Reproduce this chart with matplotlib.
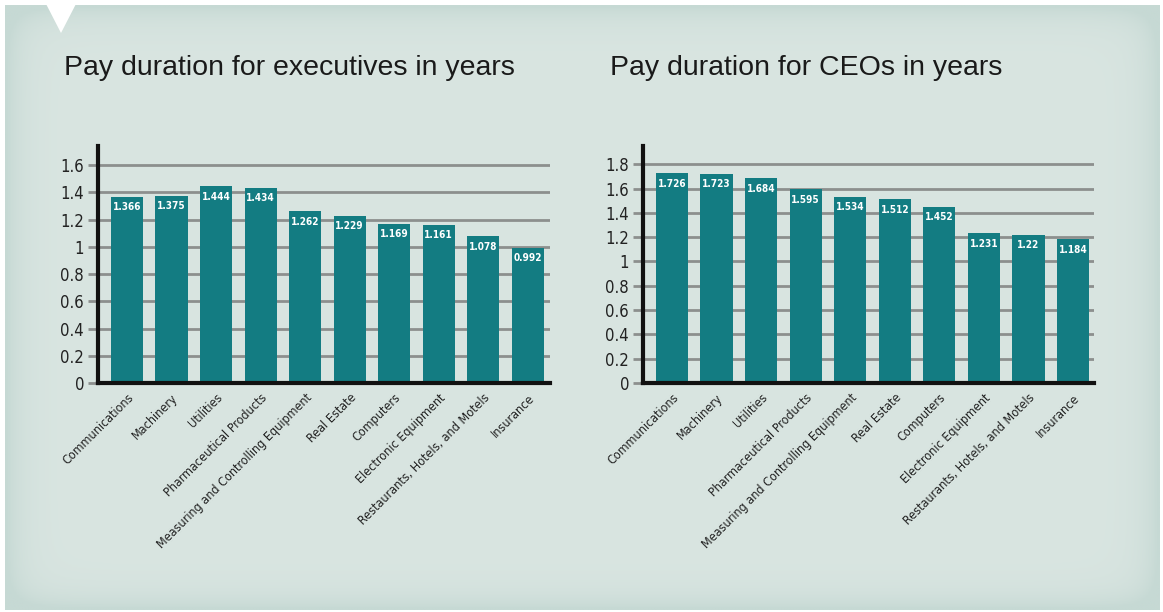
import numpy as np
import matplotlib
matplotlib.use("Agg")
import matplotlib.pyplot as plt
from matplotlib.patches import Polygon
from matplotlib import font_manager

# data
industries = ["Communications", "Machinery", "Utilities", "Pharmaceutical Products",
              "Measuring and Controlling Equipment", "Real Estate", "Computers",
              "Electronic Equipment", "Restaurants, Hotels, and Motels", "Insurance"]
exec_values = [1.366, 1.375, 1.444, 1.434, 1.262, 1.229, 1.169, 1.161, 1.078, 0.992]
ceo_industries = ["Communications", "Machinery", "Utilities", "Pharmaceutical Products",
                  "Measuring and Controlling Equipment", "Real Estate", "Computers",
                  "Electronic Equipment", "Restaurants, Hotels, and Motels", "Insurance"]
ceo_values = [1.726, 1.723, 1.684, 1.595, 1.534, 1.512, 1.452, 1.231, 1.22, 1.184]
exec_ticks = [0, 0.2, 0.4, 0.6, 0.8, 1, 1.2, 1.4, 1.6]
ceo_ticks = [0, 0.2, 0.4, 0.6, 0.8, 1, 1.2, 1.4, 1.6, 1.8]

BAR = "#137c82"
GRID = "#8c8f8e"


# look for a condensed face, the original uses a narrow grotesque
def find_narrow(bold):
    for f in font_manager.fontManager.ttflist:
        narrowish = ("Narrow" in f.name or "Condensed" in f.name
                     or f.stretch in ("condensed", "semi-condensed", 500 - 125))
        if not narrowish or f.style != "normal":
            continue
        w = f.weight if isinstance(f.weight, int) else (700 if f.weight == "bold" else 400)
        if (w >= 600) == bold:
            return font_manager.FontProperties(fname=f.fname)
    return None


reg = find_narrow(False)
bld = find_narrow(True)
found = reg is not None
if reg is None:
    reg = font_manager.FontProperties(family="Liberation Sans")
if bld is None:
    bld = font_manager.FontProperties(family="Liberation Sans", weight="bold")

fig = plt.figure(figsize=(11.63, 6.12), dpi=100)
fig.patch.set_facecolor("white")

# background panel with slightly darker edges
bg_ax = fig.add_axes([5 / 1163, 2 / 612, 1155 / 1163, 605 / 612])
bg_ax.set_axis_off()
h, w = 200, 400
yy, xx = np.mgrid[0:h, 0:w]
dx = np.minimum(xx, w - 1 - xx) / w
dy = np.minimum(yy, h - 1 - yy) / h
edge = np.clip(np.exp(-dx / 0.015) + np.exp(-dy / 0.025), 0, 1)
base = np.array([0xd9, 0xe5, 0xe1]) / 255
dark = np.array([0xc6, 0xd9, 0xd4]) / 255
img = base[None, None, :] * (1 - edge[..., None]) + dark[None, None, :] * edge[..., None]
bg_ax.imshow(img, aspect="auto", extent=[0, 1, 0, 1])
bg_ax.set_xlim(0, 1)
bg_ax.set_ylim(0, 1)

# white notch at top left
fig.patches.append(Polygon([[44 / 1163, 1.0], [78 / 1163, 1.0], [61 / 1163, 1 - 33 / 612]],
                           closed=True, transform=fig.transFigure, facecolor="white",
                           edgecolor="none", zorder=5))

tick_size = 9 if found else 8.2
ytick_size = 12 if found else 11
val_size = 7.2 if found else 7


def draw_panel(rect, names, values, ticks, ytop, xright, title, title_x):
    ax = fig.add_axes(rect)
    ax.set_facecolor("none")
    x = np.arange(len(names))
    for t in ticks:
        ax.axhline(t, color=GRID, lw=2, zorder=1)
    bars = ax.bar(x, values, width=0.72, color=BAR, zorder=2)
    for b, v in zip(bars, values):
        ax.annotate(f"{v:g}", (b.get_x() + b.get_width() / 2, v), xytext=(0, -7.5),
                    textcoords="offset points", ha="center", va="center",
                    color="white", fontproperties=bld, fontsize=val_size, zorder=3)
    ax.set_xlim(-0.65, xright)
    ax.set_ylim(0, ytop)
    ax.set_yticks(ticks)
    ax.set_yticklabels([f"{t:g}" for t in ticks], fontproperties=reg,
                       fontsize=ytick_size, color="#222222")
    ax.tick_params(axis="y", length=7, width=2, color=GRID, pad=3)
    ax.set_xticks(x)
    ax.set_xticklabels(names, rotation=45, ha="right", rotation_mode="anchor",
                       fontproperties=reg, fontsize=tick_size, color="#222222")
    ax.tick_params(axis="x", length=0, pad=6)
    for s in ["top", "right"]:
        ax.spines[s].set_visible(False)
    for s in ["left", "bottom"]:
        ax.spines[s].set_color("#111111")
        ax.spines[s].set_linewidth(3)
        ax.spines[s].set_zorder(4)
    fig.text(title_x, 1 - 75 / 612, title, fontsize=20.5, color="#1a1a1a",
             family=["Liberation Sans", "DejaVu Sans"], va="baseline")
    return ax


draw_panel([98 / 1163, 1 - 383 / 612, 452 / 1163, 237 / 612], industries, exec_values,
           exec_ticks, 1.74, 9.5, "Pay duration for executives in years", 64 / 1163)
draw_panel([643 / 1163, 1 - 383 / 612, 451 / 1163, 237 / 612], ceo_industries, ceo_values,
           ceo_ticks, 1.95, 9.47, "Pay duration for CEOs in years", 610 / 1163)

fig.savefig("out.png", dpi=100, facecolor="white")
